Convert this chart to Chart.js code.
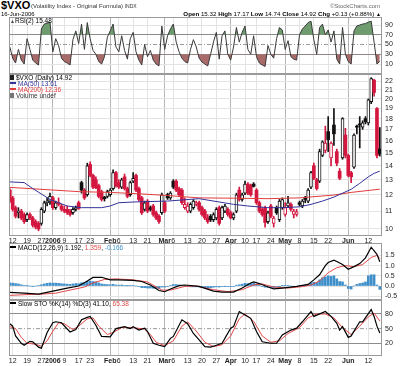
<!DOCTYPE html>
<html>
<head>
<meta charset="utf-8">
<title>$VXO</title>
<script src="https://cdn.jsdelivr.net/npm/chart.js@4.4.1/dist/chart.umd.min.js"></script>
<style>
  html, body { margin: 0; padding: 0; background: #fff; }
  #page { position: relative; width: 400px; height: 366px; overflow: hidden; font-family: "Liberation Sans", Arial, sans-serif; color: #000; }
  #page canvas { position: absolute; left: 0; }
  .t { position: absolute; white-space: nowrap; line-height: 1; }
  .lbl { font-size: 6.5px; }
  .ln { display: inline-block; width: 6px; height: 2px; vertical-align: middle; margin-right: 2px; position: relative; top: -1px; }
  .bx { display: inline-block; width: 4px; height: 5px; vertical-align: middle; margin-right: 2px; position: relative; top: -1px; }
</style>
</head>
<body>
<div id="page">
  <canvas id="rsiChart" width="400" height="57" style="top:17px"></canvas>
  <canvas id="priceChart" width="400" height="172" style="top:74px"></canvas>
  <canvas id="macdChart" width="400" height="57" style="top:243px"></canvas>
  <canvas id="stoChart" width="400" height="66" style="top:300px"></canvas>

  <div class="t" style="left:1px;top:0px;font-weight:bold;font-size:11px">$VXO</div>
  <div class="t" style="left:31px;top:3px;font-size:6px;color:#333">(Volatility Index - Original Formula) <span style="font-size:5px">INDX</span></div>
  <div class="t" style="right:20px;top:3px;font-size:6px;color:#666">©StockCharts.com</div>
  <div class="t" style="left:1px;top:11px;font-size:6px">16-Jun-2006</div>
  <div class="t" style="right:19px;top:11px;font-size:6.2px"><b>Open</b> 15.32 <b>High</b> 17.17 <b>Low</b> 14.74 <b>Close</b> 14.92 <b>Chg</b> +0.13 (+0.88%) <span style="font-size:5px">▲</span></div>

  <div class="t lbl" style="left:10px;top:18px"><span style="font-size:5px;color:#444">▲</span>RSI(2) 15.48</div>

  <div class="t lbl" style="left:10px;top:75px"><span class="bx" style="background:#222"></span>$VXO (Daily) 14.92</div>
  <div class="t lbl" style="left:10px;top:81px;color:#33339a"><span class="ln" style="background:#33339a"></span>MA(50) 13.61</div>
  <div class="t lbl" style="left:10px;top:87px;color:#e03c3c"><span class="ln" style="background:#e03c3c"></span>MA(200) 12.36</div>
  <div class="t lbl" style="left:10px;top:93px;color:#333"><span class="bx" style="background:#777"></span>Volume undef</div>

  <div class="t lbl" style="left:10px;top:245px"><span class="ln" style="background:#000"></span>MACD(12,26,9) 1.192, <span style="color:#e04848">1.359</span>, <span style="color:#3d92cf">-0.166</span></div>
  <div class="t lbl" style="left:10px;top:301px"><span class="ln" style="background:#000"></span>Slow STO %K(14) %D(3) 41.10, <span style="color:#e04848">65.38</span></div>
</div>

<script>
// trading days: day -1 = 9 Dec 2005 ... day 128 = 16 Jun 2006
const FIRST_DAY = -1;
const X_MIN = -1.29, X_MAX = 128.76;

const tickDays = [0, 5, 10, 14, 18, 23, 27, 34, 37, 42, 47, 53, 56, 61, 66, 71, 76, 81, 85, 90, 95, 100, 105, 110, 117, 124];
const tickLabels = ['12', '19', '27', '2006', '9', '17', '23', 'Feb', '6', '13', '21', 'Mar', '6', '13', '20', '27', 'Apr', '10', '17', '24', 'May', '8', '15', '22', 'Jun', '12'];
const monthDays = [14, 34, 53, 76, 95, 117];

// daily OHLC, one value per trading day
const opens = [
  12.3, 11.8, 11.2, 10.9, 11.0, 10.8, 10.5, 10.8, 10.6, 10.4,
  10.3, 10.3, 11.0, 11.5, 11.6, 11.8, 11.2, 11.5, 11.3, 11.1,
  11.1, 11.0, 10.9, 11.1, 11.5, 12.8, 12.3, 12.0, 14.1, 13.3,
  13.0, 12.6, 12.2, 11.85, 11.9, 12.0, 12.4, 13.5, 12.8, 12.5,
  13.2, 12.4, 12.0, 12.9, 13.3, 12.4, 11.8, 11.1, 11.6, 11.2,
  11.3, 10.9, 10.7, 10.9, 11.5, 12.0, 11.8, 12.9, 12.9, 12.4,
  12.3, 11.2, 11.0, 11.0, 11.2, 11.4, 11.5, 11.2, 11.0, 10.6,
  10.7, 10.5, 10.6, 11.2, 10.6, 11.0, 11.1, 10.9, 10.6, 11.0,
  12.3, 11.7, 12.1, 12.7, 12.6, 12.7, 12.3, 11.5, 11.1, 11.2,
  10.4, 11.3, 10.3, 11.2, 10.5, 11.2, 10.8, 11.3, 11.4, 10.8,
  10.8, 11.5, 11.3, 11.8, 11.6, 12.5, 14.0, 13.0, 12.9, 14.8,
  15.2, 16.8, 14.6, 17.4, 15.1, 13.6, 14.6, 16.5, 14.8, 13.5,
  13.9, 17.3, 17.5, 17.2, 18.0, 17.6, 19.7, 22.1, 19.0, 15.32
];
const highs = [
  12.4, 11.9, 11.3, 11.2, 11.1, 10.9, 10.9, 10.9, 10.7, 10.5,
  10.4, 11.2, 11.6, 11.8, 12.1, 11.9, 11.6, 11.8, 11.4, 11.3,
  11.3, 11.1, 11.2, 11.3, 11.6, 12.9, 12.4, 14.2, 14.3, 13.4,
  13.2, 12.7, 12.3, 11.9, 12.3, 12.4, 13.7, 13.6, 13.0, 13.1,
  13.4, 12.5, 12.9, 13.5, 13.4, 12.5, 11.9, 11.6, 11.7, 11.3,
  11.4, 11.0, 10.8, 12.1, 11.6, 12.1, 12.2, 13.0, 13.0, 12.5,
  12.4, 11.8, 11.5, 11.5, 11.7, 11.6, 11.6, 11.3, 11.1, 10.8,
  10.8, 10.9, 11.2, 11.3, 11.3, 11.4, 11.2, 11.0, 10.9, 12.1,
  12.5, 12.1, 12.9, 12.8, 12.7, 12.8, 12.4, 11.6, 11.2, 11.3,
  11.0, 11.4, 10.7, 11.3, 11.7, 11.8, 11.5, 11.9, 11.5, 11.1,
  11.1, 11.6, 11.7, 11.9, 12.4, 13.6, 14.2, 13.1, 15.3, 16.0,
  17.3, 18.2, 15.9, 19.0, 15.3, 13.8, 18.1, 17.1, 14.9, 13.6,
  16.6, 17.4, 18.2, 17.8, 18.2, 20.0, 22.4, 22.2, 19.1, 17.17
];
const lows = [
  11.5, 11.0, 10.6, 10.6, 10.5, 10.3, 10.4, 10.5, 10.1, 10.0,
  9.9, 10.2, 10.9, 11.3, 11.4, 11.1, 11.1, 11.3, 11.0, 10.9,
  10.8, 10.7, 10.8, 11.0, 11.1, 12.1, 11.7, 11.9, 13.2, 12.4,
  12.4, 11.8, 11.6, 11.6, 11.8, 11.9, 12.3, 12.5, 12.4, 12.4,
  12.3, 11.8, 11.9, 12.8, 12.2, 11.6, 10.8, 11.0, 10.9, 11.0,
  10.7, 10.5, 10.3, 10.8, 10.9, 11.7, 11.7, 12.4, 12.2, 11.9,
  11.4, 11.1, 10.9, 10.9, 11.1, 11.3, 11.0, 10.7, 10.5, 10.3,
  10.4, 10.4, 10.5, 10.2, 10.5, 10.9, 10.7, 10.55, 10.5, 10.9,
  11.6, 11.6, 12.0, 12.0, 11.9, 12.5, 11.4, 10.9, 10.7, 10.1,
  10.3, 10.6, 10.1, 10.8, 10.4, 11.1, 10.7, 11.2, 11.0, 10.6,
  10.7, 11.3, 11.2, 11.5, 11.5, 12.4, 13.0, 12.3, 12.8, 14.7,
  15.0, 15.1, 14.0, 15.6, 14.0, 13.0, 14.5, 14.6, 13.2, 12.8,
  13.8, 16.6, 15.4, 17.0, 17.5, 17.4, 19.5, 20.3, 14.6, 14.74
];
const closes = [
  11.6, 11.1, 10.7, 11.0, 10.6, 10.4, 10.8, 10.6, 10.2, 10.1,
  10.0, 11.1, 11.5, 11.6, 11.9, 11.2, 11.5, 11.4, 11.1, 11.0,
  10.9, 10.8, 11.1, 11.2, 11.15, 12.3, 11.8, 14.0, 13.3, 12.5,
  12.45, 11.9, 11.7, 11.75, 12.2, 12.3, 13.5, 12.6, 12.5, 13.0,
  12.4, 11.9, 12.8, 13.1, 12.3, 11.7, 10.9, 11.5, 11.0, 11.1,
  10.8, 10.6, 10.4, 12.0, 11.0, 11.8, 12.1, 12.5, 12.3, 12.0,
  11.5, 11.4, 11.3, 11.4, 11.6, 11.5, 11.1, 10.8, 10.6, 10.4,
  10.5, 10.8, 11.1, 10.3, 11.2, 11.3, 10.8, 10.6, 10.8, 12.0,
  11.7, 12.0, 12.7, 12.1, 12.0, 12.55, 11.5, 11.0, 10.8, 10.35,
  10.9, 10.7, 10.6, 10.9, 11.6, 11.7, 11.2, 11.5, 11.1, 11.0,
  10.95, 11.4, 11.6, 11.7, 12.3, 13.5, 13.1, 12.4, 15.1, 15.9,
  15.8, 16.1, 15.8, 16.6, 14.2, 13.1, 18.0, 14.8, 13.3, 13.2,
  16.5, 17.2, 17.4, 17.6, 17.7, 19.9, 22.3, 20.7, 14.79, 14.92
];

// moving averages, read at turning points
const ma50Days = [-1, 4, 7, 13, 19, 24, 31, 34, 37, 43, 54, 65, 77, 82, 89, 94, 100, 104, 108, 112, 115, 118, 121, 124, 126, 128];
const ma50Vals = [12.85, 12.8, 12.4, 11.7, 11.3, 11.2, 11.2, 11.3, 11.5, 11.55, 11.6, 11.75, 11.4, 11.3, 11.2, 11.2, 11.25, 11.4, 11.6, 11.85, 12.1, 12.35, 12.75, 13.2, 13.45, 13.61];
const ma200Days = [-1, 23, 34, 45, 54, 65, 77, 89, 100, 112, 118, 128];
const ma200Vals = [12.48, 12.2, 12.15, 12.05, 11.95, 11.8, 11.78, 11.75, 11.8, 11.98, 12.15, 12.36];

// RSI(2), daily
const rsiVals = [
  45, 22, 12, 40, 18, 10, 62, 40, 18, 12,
  8, 82, 92, 94, 96, 35, 62, 48, 22, 15,
  12, 8, 60, 78, 52, 92, 40, 95, 62, 38,
  30, 15, 10, 25, 65, 78, 92, 45, 35, 68,
  38, 20, 62, 75, 35, 18, 8, 50, 25, 38,
  18, 10, 6, 88, 40, 68, 82, 92, 55, 35,
  22, 15, 12, 40, 60, 45, 22, 14, 10, 6,
  30, 55, 75, 20, 68, 78, 30, 18, 45, 85,
  55, 75, 88, 40, 30, 68, 25, 12, 8, 5,
  48, 30, 22, 62, 85, 80, 40, 58, 25, 20,
  18, 70, 82, 88, 95, 98, 60, 30, 85, 92,
  70, 80, 55, 78, 20, 10, 85, 30, 15, 10,
  78, 88, 90, 92, 93, 96, 98, 55, 10, 15.48
];

// MACD(12,26,9)
const macdDays = [-1, 4, 9, 14, 19, 23, 26, 28, 31, 34, 37, 42, 45, 48, 51, 53, 55, 58, 60, 65, 70, 73, 77, 80, 83, 84, 86, 89, 91, 94, 99, 103, 105, 107, 109, 110, 112, 113, 115, 117, 119, 121, 123, 125, 127, 128];
const macdVals = [-0.31, -0.35, -0.40, -0.25, -0.10, 0.0, 0.25, 0.42, 0.43, 0.30, 0.30, 0.28, 0.22, 0.05, -0.22, -0.28, -0.15, 0.02, 0.05, -0.02, -0.25, -0.30, -0.30, -0.10, 0.15, 0.20, 0.12, -0.05, -0.14, -0.10, -0.02, 0.08, 0.30, 0.55, 1.00, 1.15, 1.27, 1.20, 1.05, 0.82, 0.95, 1.10, 1.38, 1.90, 1.55, 1.192];
const signalDays = [-1, 5, 10, 15, 20, 25, 28, 32, 36, 42, 47, 52, 55, 60, 64, 70, 75, 80, 84, 87, 91, 96, 101, 104, 107, 110, 113, 116, 119, 122, 125, 127, 128];
const signalVals = [-0.46, -0.42, -0.40, -0.35, -0.20, -0.05, 0.15, 0.32, 0.35, 0.30, 0.20, -0.20, -0.20, -0.02, 0.0, -0.18, -0.28, -0.18, 0.05, 0.10, -0.05, -0.10, -0.03, 0.05, 0.25, 0.65, 0.90, 1.00, 0.95, 1.05, 1.40, 1.50, 1.359];
const histVals = [
  0.15, 0.14, 0.12, 0.10, 0.06, 0.03, 0.01, 0.00, -0.01, 0.00,
  0.02, 0.06, 0.10, 0.13, 0.15, 0.14, 0.14, 0.13, 0.11, 0.10,
  0.09, 0.08, 0.10, 0.12, 0.11, 0.16, 0.15, 0.22, 0.24, 0.22,
  0.20, 0.15, 0.10, 0.08, 0.07, 0.06, 0.08, 0.05, 0.04, 0.05,
  0.03, 0.01, 0.02, 0.03, 0.00, -0.03, -0.08, -0.08, -0.10, -0.10,
  -0.11, -0.12, -0.12, -0.05, -0.05, -0.02, 0.02, 0.07, 0.07, 0.05,
  0.02, -0.01, -0.03, -0.04, -0.04, -0.04, -0.05, -0.07, -0.08, -0.09,
  -0.08, -0.06, -0.04, -0.05, -0.03, -0.01, -0.02, -0.03, -0.02, 0.04,
  0.06, 0.09, 0.13, 0.12, 0.12, 0.13, 0.09, 0.03, -0.02, -0.06,
  -0.06, -0.07, -0.08, -0.05, -0.01, 0.01, 0.01, 0.02, 0.00, -0.01,
  -0.02, 0.00, 0.02, 0.04, 0.08, 0.15, 0.18, 0.17, 0.30, 0.40,
  0.45, 0.50, 0.47, 0.50, 0.35, 0.22, 0.20, 0.05, -0.12, -0.15,
  0.00, 0.08, 0.12, 0.15, 0.20, 0.50, 0.55, 0.55, 0.05, -0.166
];

// Slow stochastic
const stoKDays = [-1, 0, 1, 3, 4, 6, 7, 9, 10, 12, 14, 15, 17, 20, 22, 24, 26, 27, 29, 31, 34, 36, 39, 41, 42, 44, 46, 47, 49, 51, 53, 55, 56, 59, 61, 63, 65, 67, 69, 71, 73, 76, 77, 79, 81, 83, 85, 87, 90, 92, 94, 97, 99, 101, 104, 105, 109, 111, 113, 114, 115, 117, 118, 121, 122, 125, 126, 127, 128];
const stoKVals = [60, 55, 35, 20, 16, 24, 23, 12, 10, 42, 62, 64, 62, 43, 48, 68, 73, 75, 57, 34, 33, 50, 54, 50, 54, 47, 51, 44, 20, 16, 13, 30, 34, 68, 60, 40, 27, 13, 12, 16, 20, 51, 54, 85, 78, 71, 44, 23, 20, 20, 37, 47, 51, 64, 85, 75, 85, 75, 61, 47, 54, 32, 35, 64, 64, 89, 75, 55, 41.1];
const stoDDays = [-1, 1, 3, 5, 8, 10, 12, 14, 16, 18, 21, 23, 26, 28, 30, 33, 35, 38, 42, 46, 48, 50, 53, 56, 59, 61, 64, 67, 70, 73, 76, 79, 81, 84, 87, 90, 93, 96, 100, 103, 106, 109, 112, 115, 118, 121, 124, 126, 128];
const stoDVals = [54, 50, 32, 20, 18, 14, 25, 45, 62, 60, 48, 55, 70, 72, 55, 38, 42, 52, 52, 49, 38, 22, 15, 25, 55, 64, 45, 22, 13, 17, 35, 70, 80, 65, 35, 22, 25, 40, 52, 72, 80, 80, 72, 52, 38, 55, 74, 82, 65.38];

const priceTicks = [10, 11, 12, 13, 14, 15, 16, 17, 18, 19, 20, 21, 22];
const rsiTicks = [10, 30, 50, 70, 90];
const macdTicks = [-0.5, 0, 0.5, 1.0, 1.5];
const stoTicks = [20, 50, 80];

const FONT = 'Liberation Sans';
const AXIS_W = 18;
const RED = '#d3173f';
const GRID = '#e3e3e3';

Chart.defaults.font.family = FONT;
Chart.defaults.animation = false;
Chart.defaults.events = [];
Chart.defaults.plugins.legend.display = false;
Chart.defaults.plugins.tooltip.enabled = false;

const daily = vals => vals.map((v, k) => ({ x: k + FIRST_DAY, y: v }));
const pts = (days, vals) => days.map((d, i) => ({ x: d, y: vals[i] }));
const flat = v => [{ x: X_MIN, y: v }, { x: X_MAX, y: v }];

// thin box round each panel
const panelBox = {
  id: 'panelBox',
  afterDraw(chart) {
    const a = chart.chartArea, c = chart.ctx;
    c.save();
    c.strokeStyle = '#9a9a9a';
    c.lineWidth = 1;
    c.strokeRect(a.left + 0.5, a.top + 0.5, a.right - a.left - 1, a.bottom - a.top - 1);
    c.restore();
  }
};

function xAxis(showLabels) {
  return {
    type: 'linear', min: X_MIN, max: X_MAX, offset: false,
    afterBuildTicks: s => { s.ticks = tickDays.map(v => ({ value: v })); },
    afterFit: s => { s.height = showLabels ? 10 : 0; s.paddingLeft = 0; s.paddingRight = 0; },
    border: { display: false },
    grid: { offset: false, drawTicks: false, color: ctx => monthDays.includes(ctx.tick && ctx.tick.value) ? '#b5b5b5' : GRID },
    ticks: {
      display: showLabels, autoSkip: false, maxRotation: 0, padding: 1, color: '#222',
      font: ctx => ({ family: FONT, size: 7, weight: monthDays.includes(ctx.tick && ctx.tick.value) ? 'bold' : 'normal' }),
      callback: (v, i) => tickLabels[i]
    }
  };
}

function yAxis(type, min, max, ticks, fmt, gridColor) {
  return {
    type, position: 'right', min, max,
    afterBuildTicks: s => { s.ticks = ticks.map(v => ({ value: v })); },
    afterFit: s => { s.width = AXIS_W; s.paddingTop = 0; s.paddingBottom = 0; },
    border: { display: false },
    grid: { drawTicks: false, color: gridColor },
    ticks: { padding: 3, color: '#222', font: { family: FONT, size: 7 }, callback: fmt }
  };
}

const baseOpts = (x, y) => ({
  responsive: false,
  maintainAspectRatio: false,
  layout: { padding: { left: 9, right: 0, top: 0, bottom: 0 } },
  elements: { point: { radius: 0 }, line: { borderWidth: 1, tension: 0 } },
  scales: { x, y }
});

const levelGrid = (strong) => ctx => {
  const v = ctx.tick && ctx.tick.value;
  if (strong.includes(v)) return '#8c8c8c';
  if (v === 50) return 'rgba(0,0,0,0)';
  return GRID;
};

// RSI panel
new Chart(document.getElementById('rsiChart'), {
  type: 'line',
  data: {
    datasets: [
      { data: daily(rsiVals), borderColor: '#3a3a3a', borderWidth: 1, fill: false },
      { data: daily(rsiVals), borderWidth: 0, borderColor: 'rgba(0,0,0,0)', fill: { target: { value: 70 }, above: '#6f9c6f', below: 'rgba(0,0,0,0)' } },
      { data: daily(rsiVals), borderWidth: 0, borderColor: 'rgba(0,0,0,0)', fill: { target: { value: 30 }, above: 'rgba(0,0,0,0)', below: '#a96a6a' } },
      { data: flat(50), borderColor: '#9a9a9a', borderWidth: 1, borderDash: [4, 2, 1, 2] }
    ]
  },
  options: baseOpts(xAxis(false), yAxis('linear', -10.5, 106.5, rsiTicks, v => v, levelGrid([30, 70]))),
  plugins: [panelBox]
});

// price panel: candles from floating bars
const redDay = closes.map((c, k) => k === 0 ? true : c < closes[k - 1]);
const hollow = closes.map((c, k) => c > opens[k]);
const candleCol = redDay.map(r => r ? RED : '#111');

new Chart(document.getElementById('priceChart'), {
  type: 'line',
  data: {
    datasets: [
      { data: pts(ma50Days, ma50Vals), borderColor: '#33339a', borderWidth: 1 },
      { data: pts(ma200Days, ma200Vals), borderColor: '#e03c3c', borderWidth: 1 },
      {
        type: 'bar', grouped: false, barThickness: 3, borderSkipped: false,
        data: opens.map((o, k) => ({ x: k + FIRST_DAY, y: [o, closes[k]] })),
        backgroundColor: hollow.map((h, k) => h ? '#fff' : candleCol[k]),
        borderColor: candleCol,
        borderWidth: hollow.map(h => h ? 1 : 0)
      },
      {
        type: 'bar', grouped: false, barThickness: 1,
        data: lows.map((l, k) => ({ x: k + FIRST_DAY, y: [l, highs[k]] })),
        backgroundColor: candleCol
      }
    ]
  },
  options: baseOpts(xAxis(true), yAxis('logarithmic', 9.63, 22.84, priceTicks, v => String(v), GRID)),
  plugins: [panelBox]
});

// MACD panel
new Chart(document.getElementById('macdChart'), {
  type: 'line',
  data: {
    datasets: [
      { data: pts(macdDays, macdVals), borderColor: '#000', borderWidth: 1.2 },
      { data: pts(signalDays, signalVals), borderColor: '#e04848', borderWidth: 1 },
      { type: 'bar', grouped: false, barThickness: 2, data: daily(histVals), backgroundColor: '#3d8ec9' }
    ]
  },
  options: baseOpts(xAxis(false), yAxis('linear', -0.686, 2.108, macdTicks, v => v.toFixed(1), GRID)),
  plugins: [panelBox]
});

// Slow stochastic panel
new Chart(document.getElementById('stoChart'), {
  type: 'line',
  data: {
    datasets: [
      { data: pts(stoKDays, stoKVals), borderColor: '#000', borderWidth: 1.2 },
      { data: pts(stoDDays, stoDVals), borderColor: '#e04848', borderWidth: 1 },
      { data: flat(50), borderColor: '#9a9a9a', borderWidth: 1, borderDash: [4, 2, 1, 2] }
    ]
  },
  options: baseOpts(xAxis(true), yAxis('linear', -6.1, 108.6, stoTicks, v => v, levelGrid([20, 80]))),
  plugins: [panelBox]
});
</script>
</body>
</html>
